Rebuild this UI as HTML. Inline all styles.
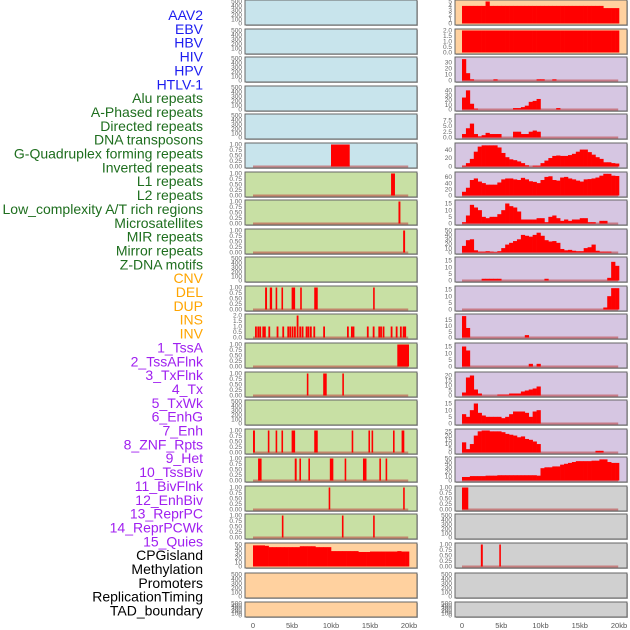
<!DOCTYPE html>
<html><head><meta charset="utf-8"><style>
html,body{margin:0;padding:0;background:#fff;}
svg{display:block;font-family:"Liberation Sans",sans-serif;}
</style></head><body>
<svg id="chart" width="630" height="630" viewBox="0 0 630 630" xmlns="http://www.w3.org/2000/svg">
<g id="labels"></g>
<g id="panels"></g>
<g id="xaxes"></g>
</svg>
<script>
// ---------- data ----------
const trackLabels = ["AAV2","EBV","HBV","HIV","HPV","HTLV-1","Alu repeats","A-Phased repeats","Directed repeats","DNA transposons","G-Quadruplex forming repeats","Inverted repeats","L1 repeats","L2 repeats","Low_complexity A/T rich regions","Microsatellites","MIR repeats","Mirror repeats","Z-DNA motifs","CNV","DEL","DUP","INS","INV","1_TssA","2_TssAFlnk","3_TxFlnk","4_Tx","5_TxWk","6_EnhG","7_Enh","8_ZNF_Rpts","9_Het","10_TssBiv","11_BivFlnk","12_EnhBiv","13_ReprPC","14_ReprPCWk","15_Quies","CPGisland","Methylation","Promoters","ReplicationTiming","TAD_boundary"];
const labelGroups = [6,13,5,15,5];
const xTickValues = [0,5,10,15,20];
const xTickLabels = ["0","5kb","10kb","15kb","20kb"];

// left-panel interval marks [startKb, endKb]
const leftRow6 = [[10.0,12.4]];
const leftRow7 = [[17.7,18.2]];
const leftRow8 = [[18.65,18.9]];
const leftRow9 = [[19.25,19.5]];
const leftRow11 = [[1.55,1.8],[2.15,2.45],[2.9,3.1],[3.65,3.85],[4.95,5.4],[6.05,6.25],[7.85,8.3],[15.4,15.6]];
const leftRow12Pos = [0.26,0.56,0.81,1.2,1.41,1.97,3.03,3.76,4.4,4.66,4.96,5.26,5.6,5.94,6.24,6.75,7.0,7.3,7.74,9.0,12.05,12.56,12.77,14.6,15.35,16.07,16.3,16.62,17.65,18.3,18.84,19.19,19.4];
const leftRow12Val = [1,1,1,1,1,1,1,1,1,1,1,1,2,1,1,1,1,1,1,1,1,1,1,1,1,1,1,1,1,1,1,1,1];
const leftRow13 = [[18.5,20.0]];
const leftRow14 = [[6.9,7.1],[9.0,9.45],[11.45,11.65]];
const leftRow16 = [[0.0,0.25],[1.9,2.1],[2.9,3.1],[3.65,3.85],[4.95,5.4],[7.85,8.3],[12.65,12.85],[14.8,15.0],[15.2,15.4],[17.95,18.1],[19.05,19.4]];
const leftRow17 = [[0.65,1.1],[5.35,5.6],[5.95,6.15],[7.1,7.3],[9.85,10.3],[11.75,11.95],[14.1,14.55],[16.2,16.4],[17.0,17.2]];
const leftRow18 = [[9.7,9.9],[19.25,19.45]];
const leftRow19 = [[3.7,3.9],[11.4,11.6],[15.4,15.6]];
const cpgValues = [48,48,48,47,44,44,44,44,44,44,44,44,46,46,46,46,44,44,44,44,35,35,35,35,35,35,35,33,33,33,34,34,34,34,34,34,34,35,34,34];

// right-panel histogram values (0.5 kb bins)
const aav2Values = [4,4,4,4,4,4,5,4,4,4,4,4,4,4,4,4,4,4,4,4,4,4,4,4,4,4,4,4,4,4,4,4,4,4,4,4,3.5,3.5,3.5,3.5];
const ebvValues = [2,2,2,2,2,2,2,2,2,2,2,2,2,2,2,2,2,2,2,2,2,2,2,2,2,2,2,2,2,2,2,2,2,2,2,2,2,2,2,2];
const hbvValues = [35,12,2,0,0,0,0,0,2,0,0,0,0,0,0,0,0,0,0,2,2,0,0,2,0,0,0,0,0,0,0,0,0,0,0,0,0,0,0,0];
const hivValues = [25,40,12,2,0,0,0,0,0,0,0,0,0,3,3,5,8,16,18,22,0,0,0,0,3,0,0,0,0,0,0,0,0,0,0,0,0,0,0,0];
const directedValues = [1.5,4,6,1.5,0.5,1,2,1.5,1.5,1.5,0,0,0,2.5,2.5,1.5,1.5,2.5,3,2.5,0,0,0,0,0,0,0,0,0,0,0,0,0,0,0,0,0,0,0,0];
const gquadValues = [2,8,18,35,47,50,50,50,50,45,32,22,17,15,12,8,3,0,2,2,8,14,20,25,26,25,25,27,30,35,40,40,34,28,22,18,10,10,8,7];
const row7Values = [12,25,50,55,45,40,35,35,35,42,52,55,55,52,50,57,52,46,44,40,50,60,62,50,48,58,60,55,52,48,45,52,53,55,58,64,70,70,64,63];
const row8Values = [1,6,14,12,10,5,4,5,5,7,10,15,13,12,9,3,3,3,3,4,4,1,5,6,4,2,3,2,3,3,4,4,1,1,0,2,2,0,0,0];
const row9Values = [15,28,30,5,2,2,3,2,1,3,10,18,22,26,30,40,38,36,40,45,38,28,25,26,22,8,5,6,4,3,3,10,12,18,4,2,2,2,0,0];
const row10Values = [0,0,0,0,0,1.3,1.3,1.3,1.3,1.3,0,0,0,0,0,0,0,0,0,0,0,1.3,0,0,0,0,0,0,0,0,0,0,0,0,0,0,0,2,14,11];
const row11Values = [0,0,0,0,0,0,0,0,0,0,0,0,0,0,0,0,0,0,0,0,0,0,0,0,0,0,0,0,0,0,0,0,0,0,0,0,1.5,10,16,16];
const row12Values = [18,8,0,0,0,0,0,0,0,0,0,0,0,0,0,0,2,0,0,0,0,0,0,0,0,0,0,0,0,0,0,0,0,0,0,0,0,0,0,0];
const row13Values = [15,12,0,0,0,0,0,0,0,0,0,0,0,0,0,0,0,2,0,2,0,0,0,0,0,0,0,0,0,0,0,0,0,0,0,0,0,0,0,0];
const row14Values = [3,18,20,6,2,0,0,0,0,1,1,1,2,2,2,4,5,6,7,9,0,0,0,0,0,0,0,0,0,0,0,0,0,0,0,0,0,0,0,0];
const row15Values = [7,5,10,15,8,6,5,5,5,5,4,5,7,9,9,9,8,5,9,10,0,0,0,0,0,0,0,0,0,0,0,0,0,0,0,0,0,0,0,0];
const row16Values = [12,4,10,20,25,26,26,25,25,25,24,22,21,20,18,19,16,15,13,10,0,0,0,0,0,0,0,0,0,0,0,0,0,0,2,2,0,0,0,0];
const row17Values = [8,8,10,10,10,10,11,11,11,12,12,12,12,12,12,12,12,12,12,11,28,30,30,32,32,36,38,40,42,44,44,44,44,45,45,48,48,42,40,40];
const rightRow18 = [[0.0,0.8]];
const rightRow20 = [[2.4,2.65],[4.75,4.95]];

// ---------- tick sets ----------
const ticks500 = [0,100,200,300,400,500];
const ticks1 = [0,0.25,0.5,0.75,1];
const ticks1Lab = ["0.00","0.25","0.50","0.75","1.00"];

// ---------- layout ----------
const tops = [0,29,57,86,114,143,172,200,229,257,286,314,343,372,400,429,457,486,514,543,573,602];
const heights = [25,25,25,25,25,25,25,25,25,25,25,25,25,25,25,25,25,25,25,25,25,15];
const LB="#c8e4ec", GR="#c8e0a4", PE="#ffd19f", LV="#d6c6e2", GY="#d0d0d0";
const leftBg = [LB,LB,LB,LB,LB,LB,GR,GR,GR,GR,GR,GR,GR,GR,GR,GR,GR,GR,GR,PE,PE,PE];
const rightBg = [PE,PE,LV,LV,LV,LV,LV,LV,LV,LV,LV,LV,LV,LV,LV,LV,LV,GY,GY,GY,GY,GY];
const side = {L:{x0:245,z:253,k:7.8}, R:{x0:455,z:462,k:7.85}};
const PW = 172;
const NS = "http://www.w3.org/2000/svg";
const svg = document.getElementById('chart');
const gP = document.getElementById('panels');

function mk(tag, attrs, parent){ const e=document.createElementNS(NS,tag); for(const k in attrs) e.setAttribute(k,attrs[k]); parent.appendChild(e); return e; }
function xs(s,kb){ return side[s].z + kb*side[s].k; }
function ys(row,v,ymax){ const b=tops[row]+heights[row]-1.5, h=heights[row]-3; return b - v/ymax*h; }

// labels
const groupColors = ["#1c1cf0","#1e6e1e","#ffa500","#a020f0","#000000"];
const gL = document.getElementById('labels');
let gi=0, gc=0;
trackLabels.forEach((t,i)=>{
  const el = mk('text',{x:203,y:15+i*13.85+5,'text-anchor':'end','font-size':'14',fill:groupColors[gi]},gL);
  el.textContent=t;
  
  
  gc++; if(gc>=labelGroups[gi]){gi++;gc=0;}
});

function panel(s,row,bg,ticks,tickLab,ymax,drawFn){
  const g = mk('g',{},gP);
  
  
  const x0=side[s].x0, t=tops[row], h=heights[row];
  mk('rect',{x:x0+1,y:t+1,width:PW,height:h,fill:'#b8b8b8'},g);
  const r = mk('rect',{x:x0,y:t,width:PW,height:h,fill:bg,stroke:'#666','stroke-width':1},g);
  
  
  ticks.forEach((v,i)=>{
    const tl = mk('text',{x:x0-3,y:ys(row,v,ymax)+2.2,'text-anchor':'end','font-size':'6.5',fill:'#666'},g);
    tl.textContent = tickLab ? tickLab[i] : String(v);
    
    
  });
  if(drawFn) drawFn(g,s,row,ymax);
}
function baseline(g,s,row){
  const b = tops[row]+heights[row]-1.5;
  const bl = mk('rect',{x:xs(s,0),y:b-1,width:xs(s,19.9)-xs(s,0),height:2,fill:'rgba(190,60,60,0.55)'},g);
  
  
}
function intervals(list){ return (g,s,row,ymax)=>{
  baseline(g,s,row);
  list.forEach(iv=>{
    const y1=ys(row,1,ymax), y0=ys(row,0,ymax);
    const r = mk('rect',{x:xs(s,iv[0]),y:y1,width:Math.max(1.6,xs(s,iv[1])-xs(s,iv[0])),height:y0-y1,fill:'#ff0000'},g);
    
    
  });
};}
function points(pos,vals){ return (g,s,row,ymax)=>{
  baseline(g,s,row);
  pos.forEach((p,i)=>{
    const y1=ys(row,vals[i],ymax), y0=ys(row,0,ymax);
    const r = mk('rect',{x:xs(s,p),y:y1,width:1.8,height:y0-y1,fill:'#ff0000'},g);
    
    
  });
};}
function hist(vals,withBase){ return (g,s,row,ymax)=>{
  if(withBase!==false) baseline(g,s,row);
  vals.forEach((v,i)=>{
    if(v<=0) return;
    const y1=ys(row,v,ymax), y0=ys(row,0,ymax);
    const x=xs(s,i*0.5);
    const r = mk('rect',{x:x,y:y1,width:xs(s,(i+1)*0.5)-x+0.3,height:y0-y1,fill:'#ff0000'},g);
    
    
  });
};}

// left panels
for(let r=0;r<22;r++){
  let ticks=ticks500, lab=null, ymax=500, fn=null;
  const iv = {5:leftRow6,6:leftRow7,7:leftRow8,8:leftRow9,10:leftRow11,12:leftRow13,13:leftRow14,15:leftRow16,16:leftRow17,17:leftRow18,18:leftRow19}[r];
  if(iv){ ticks=ticks1; lab=ticks1Lab; ymax=1; fn=intervals(iv); }
  if(r===11){ ticks=[0,0.5,1,1.5,2]; lab=["0.0","0.5","1.0","1.5","2.0"]; ymax=2; fn=points(leftRow12Pos,leftRow12Val); }
  if(r===19){ ticks=[0,10,20,30,40,50]; ymax=50; fn=hist(cpgValues,false); }
  panel('L',r,leftBg[r],ticks,lab,ymax,fn);
}
// right panels
const rightHist = [
  [aav2Values,5,[0,1,2,3,4,5],null,false],
  [ebvValues,2,[0,0.5,1,1.5,2],["0.0","0.5","1.0","1.5","2.0"],false],
  [hbvValues,36,[0,10,20,30],null],
  [hivValues,46,[0,10,20,30,40],null],
  [directedValues,9.5,[0,2.5,5,7.5],["0.0","2.5","5.0","7.5"]],
  [gquadValues,52,[0,20,40],null],
  [row7Values,71,[0,20,40,60],null],
  [row8Values,16.5,[0,5,10,15],null],
  [row9Values,50,[0,10,20,30,40,50],null],
  [row10Values,16.5,[0,5,10,15],null],
  [row11Values,16.5,[0,5,10,15],null],
  [row12Values,18.5,[0,5,10,15],null],
  [row13Values,16.5,[0,5,10,15],null],
  [row14Values,22,[0,5,10,15,20],null],
  [row15Values,16.5,[0,5,10,15],null],
  [row16Values,26,[0,5,10,15,20,25],null],
  [row17Values,50,[0,10,20,30,40,50],null]
];
for(let r=0;r<22;r++){
  if(r<17){
    const h=rightHist[r];
    panel('R',r,rightBg[r],h[2],h[3],h[1],hist(h[0],h[4]));
  } else if(r===17){
    panel('R',r,rightBg[r],ticks1,ticks1Lab,1,intervals(rightRow18));
  } else if(r===19){
    panel('R',r,rightBg[r],ticks1,ticks1Lab,1,intervals(rightRow20));
  } else {
    panel('R',r,rightBg[r],ticks500,null,500,null);
  }
}
// x axes
const gX = document.getElementById('xaxes');
['L','R'].forEach(s=>{
  xTickValues.forEach((v,i)=>{
    const t = mk('text',{x:xs(s,v),y:628,'text-anchor':'middle','font-size':'7.5',fill:'#555'},gX);
    t.textContent = xTickLabels[i];
    
    
  });
});
</script>
</body></html>
